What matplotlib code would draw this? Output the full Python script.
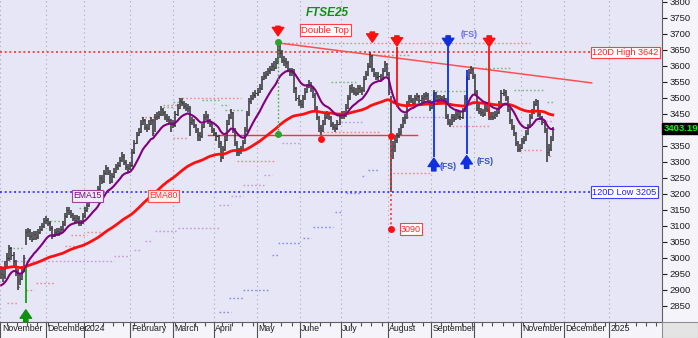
import numpy as np
import pandas as pd
import matplotlib
matplotlib.use('Agg')
import matplotlib.pyplot as plt
from matplotlib.collections import LineCollection
from matplotlib.patches import Rectangle

plt.rcParams['font.family'] = ['Liberation Sans', 'DejaVu Sans']

# daily bars, 1 Nov 2023 .. 22 Nov 2024 (trading days)
closes = [
    2950, 2945, 2975, 3000, 3030, 3010, 2990, 2960, 2910, 2935,
    2960, 3000, 3080, 3085, 3070, 3060, 3075, 3065, 3080, 3090,
    3100, 3115, 3120, 3110, 3095, 3070, 3080, 3085, 3080, 3090,
    3105, 3130, 3150, 3145, 3135, 3125, 3120, 3125, 3110,
    3110, 3130, 3150, 3165, 3180, 3190, 3200, 3195, 3215, 3250,
    3240, 3265, 3280, 3270, 3240, 3255, 3270, 3285, 3290, 3305,
    3320, 3300, 3285, 3280, 3290, 3330, 3360, 3385, 3395, 3420,
    3430, 3410, 3405, 3420, 3430, 3390, 3440, 3445, 3450,
    3465, 3455, 3440, 3435, 3430, 3420, 3415, 3450, 3470, 3490,
    3485, 3475, 3470, 3470, 3425, 3430, 3415, 3400, 3385, 3380,
    3410, 3440, 3445, 3430, 3420, 3400, 3390, 3380, 3360, 3315,
    3340, 3370, 3420, 3440, 3455, 3400, 3360, 3330, 3335,
    3340, 3360, 3400, 3450, 3490, 3500, 3510, 3515, 3520, 3530,
    3560, 3570, 3575, 3585, 3590, 3600, 3595, 3610, 3650, 3640,
    3620, 3615, 3610, 3590, 3580, 3585, 3530, 3500, 3490, 3480,
    3500, 3520, 3535, 3545, 3530, 3510, 3470, 3440, 3405,
    3400, 3420, 3440, 3450, 3440, 3420, 3410, 3405, 3420, 3440,
    3450, 3445, 3470, 3500, 3530, 3525, 3520, 3515, 3530, 3525,
    3525, 3560, 3575, 3600, 3630, 3590, 3575, 3565, 3570,
    3560, 3585, 3605, 3575, 3520, 3340, 3350, 3370, 3380, 3395,
    3410, 3430, 3440, 3480, 3500, 3495, 3485, 3500, 3505, 3495,
    3500, 3505, 3510, 3490, 3470, 3480, 3515, 3505, 3495,
    3500, 3490, 3500, 3445, 3425, 3420, 3440, 3435, 3450, 3445,
    3440, 3460, 3500, 3560, 3580, 3590, 3570, 3520, 3470, 3460,
    3455, 3450, 3470, 3465, 3440, 3445, 3440, 3450, 3455, 3480,
    3515, 3520, 3500, 3465, 3430, 3410, 3390, 3360, 3340,
    3345, 3365, 3370, 3390, 3410, 3440, 3455, 3480, 3490, 3450,
    3440, 3425, 3400, 3330, 3340, 3370, 3403.19,
]
highs = [
    2975, 2965, 2990, 3015, 3040, 3035, 3020, 2995, 2965, 2950,
    2975, 3010, 3090, 3095, 3090, 3080, 3085, 3085, 3090, 3100,
    3110, 3125, 3130, 3125, 3115, 3100, 3090, 3095, 3095, 3100,
    3115, 3140, 3160, 3160, 3150, 3140, 3135, 3135, 3130,
    3120, 3140, 3160, 3175, 3190, 3200, 3210, 3210, 3225, 3260,
    3260, 3275, 3290, 3285, 3275, 3265, 3280, 3295, 3300, 3315,
    3330, 3325, 3305, 3295, 3300, 3340, 3370, 3395, 3405, 3430,
    3440, 3435, 3420, 3430, 3440, 3435, 3450, 3455, 3460,
    3475, 3470, 3460, 3450, 3445, 3435, 3430, 3460, 3480, 3500,
    3500, 3490, 3485, 3480, 3475, 3440, 3435, 3420, 3405, 3395,
    3420, 3450, 3460, 3450, 3435, 3425, 3405, 3395, 3385, 3365,
    3350, 3380, 3430, 3450, 3465, 3455, 3405, 3365, 3345,
    3350, 3370, 3410, 3460, 3500, 3510, 3520, 3525, 3530, 3545,
    3570, 3580, 3585, 3595, 3600, 3610, 3615, 3625, 3675, 3665,
    3650, 3630, 3625, 3615, 3595, 3595, 3590, 3535, 3510, 3495,
    3510, 3530, 3545, 3556, 3550, 3535, 3515, 3475, 3445,
    3415, 3430, 3450, 3460, 3455, 3445, 3425, 3420, 3430, 3450,
    3460, 3460, 3480, 3510, 3540, 3545, 3535, 3530, 3540, 3540,
    3535, 3570, 3585, 3610, 3644, 3635, 3595, 3580, 3580,
    3575, 3595, 3615, 3610, 3580, 3505, 3365, 3380, 3390, 3405,
    3420, 3440, 3450, 3490, 3510, 3510, 3500, 3510, 3515, 3510,
    3510, 3515, 3520, 3515, 3495, 3490, 3525, 3520, 3510,
    3510, 3505, 3510, 3500, 3450, 3435, 3450, 3450, 3460, 3460,
    3455, 3470, 3510, 3570, 3590, 3600, 3595, 3575, 3525, 3480,
    3470, 3465, 3480, 3480, 3470, 3455, 3455, 3460, 3465, 3490,
    3525, 3528, 3525, 3505, 3470, 3435, 3415, 3395, 3365,
    3355, 3375, 3380, 3400, 3420, 3450, 3465, 3490, 3498, 3495,
    3455, 3445, 3430, 3405, 3355, 3380, 3410,
]
lows = [
    2935, 2925, 2935, 2965, 2990, 2995, 2975, 2945, 2900, 2915,
    2930, 2955, 3040, 3065, 3055, 3050, 3055, 3055, 3060, 3075,
    3085, 3095, 3105, 3100, 3085, 3060, 3065, 3070, 3070, 3075,
    3085, 3100, 3125, 3135, 3125, 3115, 3110, 3110, 3100,
    3100, 3105, 3125, 3145, 3160, 3175, 3185, 3185, 3190, 3210,
    3230, 3235, 3260, 3260, 3230, 3235, 3250, 3265, 3275, 3285,
    3300, 3290, 3275, 3270, 3275, 3285, 3325, 3355, 3380, 3390,
    3415, 3400, 3395, 3400, 3415, 3380, 3395, 3430, 3435,
    3445, 3445, 3430, 3425, 3420, 3395, 3405, 3410, 3445, 3465,
    3475, 3465, 3460, 3455, 3380, 3415, 3405, 3390, 3365, 3365,
    3375, 3405, 3430, 3420, 3410, 3390, 3380, 3365, 3345, 3300,
    3310, 3335, 3365, 3415, 3435, 3390, 3350, 3320, 3320,
    3325, 3335, 3355, 3395, 3445, 3480, 3495, 3500, 3505, 3515,
    3525, 3555, 3560, 3570, 3575, 3585, 3585, 3590, 3605, 3625,
    3610, 3600, 3595, 3580, 3570, 3570, 3515, 3490, 3475, 3470,
    3470, 3495, 3515, 3530, 3520, 3500, 3460, 3430, 3395,
    3385, 3395, 3415, 3435, 3430, 3410, 3400, 3395, 3400, 3415,
    3435, 3435, 3440, 3465, 3495, 3515, 3510, 3505, 3510, 3515,
    3510, 3520, 3555, 3570, 3595, 3580, 3565, 3555, 3555,
    3550, 3555, 3580, 3570, 3510, 3205, 3310, 3330, 3360, 3375,
    3385, 3405, 3420, 3435, 3475, 3485, 3475, 3480, 3490, 3485,
    3485, 3485, 3495, 3480, 3460, 3465, 3475, 3495, 3485,
    3485, 3480, 3485, 3435, 3415, 3410, 3415, 3425, 3430, 3435,
    3430, 3435, 3455, 3495, 3555, 3575, 3560, 3510, 3460, 3450,
    3445, 3440, 3445, 3455, 3430, 3430, 3430, 3435, 3440, 3450,
    3475, 3505, 3490, 3455, 3420, 3400, 3380, 3350, 3330,
    3330, 3340, 3355, 3365, 3385, 3405, 3435, 3450, 3475, 3440,
    3430, 3415, 3390, 3300, 3320, 3335, 3365,
]
holidays = ['2023-12-25', '2023-12-26', '2024-01-01', '2024-03-29',
            '2024-04-01', '2024-05-06', '2024-05-27', '2024-08-26']
ema15_start = 2910
ema80_start = 2970
high_120d = 3642
low_120d = 3205
last_close = 3403.19

# dotted level segments (start, end, level)
lavender_segs = [
    ('2023-11-01', '2024-01-22', 2991), ('2024-01-22', '2024-02-01', 3006),
    ('2024-02-05', '2024-02-08', 3025), ('2024-02-12', '2024-02-15', 3053),
    ('2024-02-19', '2024-03-05', 3084), ('2024-03-05', '2024-04-04', 3094),
    ('2024-04-04', '2024-04-12', 3166), ('2024-04-12', '2024-04-22', 3194),
    ('2024-04-22', '2024-05-07', 3228), ('2024-05-07', '2024-05-13', 3259),
    ('2024-05-20', '2024-05-31', 3359), ('2024-06-27', '2024-07-16', 3425),
    ('2024-08-12', '2024-09-27', 3440), ('2024-11-13', '2024-11-22', 3428),
]
blue_segs = [
    ('2024-04-04', '2024-04-12', 2831), ('2024-04-11', '2024-04-22', 2875),
    ('2024-04-22', '2024-05-09', 2900), ('2024-05-13', '2024-05-16', 3009),
    ('2024-05-16', '2024-06-03', 3047), ('2024-06-04', '2024-06-10', 3062),
    ('2024-06-11', '2024-06-25', 3097), ('2024-06-26', '2024-07-01', 3144),
    ('2024-07-03', '2024-07-12', 3203), ('2024-07-15', '2024-07-17', 3256),
    ('2024-07-18', '2024-07-25', 3275),
]
pink_segs = [
    ('2023-11-06', '2023-11-13', 2859), ('2023-11-17', '2023-11-23', 2900),
    ('2023-11-24', '2023-12-07', 2922), ('2023-12-14', '2023-12-21', 3037),
    ('2023-12-19', '2024-01-03', 3072), ('2024-01-03', '2024-01-12', 3081),
    ('2024-02-08', '2024-02-19', 3441), ('2024-02-23', '2024-03-05', 3478),
    ('2024-03-05', '2024-04-19', 3500), ('2024-03-01', '2024-03-12', 3375),
    ('2024-04-17', '2024-05-15', 3303), ('2024-05-17', '2024-11-07', 3672),
    ('2024-06-14', '2024-07-26', 3394), ('2024-08-05', '2024-09-02', 3264),
    ('2024-09-16', '2024-10-10', 3412), ('2024-10-31', '2024-11-15', 3337),
    ('2024-11-20', '2024-11-22', 3319),
]
green_segs = [
    ('2023-11-07', '2023-11-16', 3031), ('2023-12-05', '2023-12-14', 3116),
    ('2023-12-27', '2024-01-05', 3156), ('2024-02-23', '2024-03-01', 3472),
    ('2024-03-01', '2024-03-08', 3487), ('2024-03-21', '2024-04-04', 3494),
    ('2024-04-05', '2024-04-11', 3478), ('2024-04-09', '2024-04-22', 3462),
    ('2024-06-24', '2024-07-11', 3550), ('2024-07-22', '2024-08-16', 3634),
    ('2024-09-04', '2024-09-25', 3522), ('2024-10-04', '2024-10-25', 3594),
    ('2024-10-28', '2024-11-18', 3525), ('2024-11-19', '2024-11-22', 3487),
]

# trading-day calendar (future part uses plain weekdays)
days = pd.bdate_range('2023-11-01', '2025-02-28')
last_day = pd.Timestamp('2024-11-22')
days = days[~(days.isin(pd.to_datetime(holidays)) & (days <= last_day))]


def pos(d):
    return float(days.get_loc(pd.Timestamp(d)))


n = len(closes)
idx = np.arange(n)
ema15 = pd.Series([ema15_start] + closes).ewm(span=15, adjust=False).mean().values[1:]
ema80 = pd.Series([ema80_start] + closes).ewm(span=80, adjust=False).mean().values[1:]

fig = plt.figure(figsize=(6.98, 3.38), dpi=100, facecolor='#f4f4fa')
ax = fig.add_axes([0, 16 / 338, 662 / 698, 322 / 338], facecolor='#e6e6f6')
ax.set_xlim(-0.6, 322.3)
ax.set_ylim(2800, 3806)

# month grid / ticks
month_pos, month_lab = [], []
names = {1: '', 2: 'February', 3: 'March', 4: 'April', 5: 'May', 6: 'June', 7: 'July',
         8: 'August', 9: 'September', 10: '', 11: 'November', 12: 'December'}
for k in range(len(days)):
    if k == 0 or days[k].month != days[k - 1].month:
        if k > 316:
            break
        month_pos.append(k - 0.4)
        lab = str(days[k].year) if days[k].month == 1 else names[days[k].month]
        month_lab.append(lab)
week_pos = [k - 0.4 for k in range(1, len(days)) if days[k].weekday() < days[k - 1].weekday() and k < 322]

for mp in month_pos:
    ax.axvline(mp, color='#a8a8b8', lw=0.8, ls=(0, (1, 3)), zorder=0)
ax.set_xticks(month_pos)
ax.set_xticks(week_pos, minor=True)
ax.set_xticklabels([])
ax.tick_params(axis='x', which='major', length=11.5, width=0.8, color='#505050')
ax.tick_params(axis='x', which='minor', length=3, width=0.8, color='#505050')
for mp, lab in zip(month_pos, month_lab):
    ax.annotate(lab, xy=(mp, 0), xycoords=('data', 'axes fraction'), xytext=(1.0, -1.5),
                textcoords='offset points', ha='left', va='top', fontsize=6.3, color='#202020',
                annotation_clip=False)

ax.yaxis.tick_right()
yticks = np.arange(2850, 3801, 50)
ax.set_yticks(yticks)
# the 3400 label sits under the last-price tag
ax.set_yticklabels(['' if v == 3400 else str(v) for v in yticks])
ax.tick_params(axis='y', length=3.5, width=0.8, pad=2, labelsize=6.8, colors='#202020')
for s in ['left', 'top']:
    ax.spines[s].set_visible(False)
ax.spines['right'].set_color('#606060')
ax.spines['bottom'].set_color('#606060')

# dotted level segments
dot = (0, (1.2, 1.6))
for segs, col in [(lavender_segs, '#c49ad8'), (blue_segs, '#8a8af0'),
                  (pink_segs, '#f08a8a'), (green_segs, '#78b878')]:
    ax.hlines([s[2] for s in segs], [pos(s[0]) for s in segs], [pos(s[1]) for s in segs],
              colors=col, linestyles=dot, lw=1.0, zorder=1)

# 120-day high / low
x_end = pos('2024-12-18')
ax.hlines(high_120d, -0.6, x_end, colors='#ff3030', linestyles=dot, lw=1.2, zorder=1)
ax.hlines(low_120d, -0.6, x_end, colors='#3030ff', linestyles=dot, lw=1.2, zorder=1)
ax.text(x_end + 1.2, high_120d, '120D High %d' % high_120d, fontsize=6.6, color='#ff2020',
        va='center', ha='left', bbox=dict(boxstyle='square,pad=0.15', fc='white', ec='#ff4040', lw=0.8))
ax.text(x_end + 1.2, low_120d, '120D Low %d' % low_120d, fontsize=6.6, color='#2020ff',
        va='center', ha='left', bbox=dict(boxstyle='square,pad=0.15', fc='white', ec='#4040ff', lw=0.8))

# price bars
hl = [[(i, lo), (i, hi)] for i, lo, hi in zip(idx, lows, highs)]
ct = [[(i, c), (i + 0.55, c)] for i, c in zip(idx, closes)]
ax.add_collection(LineCollection(hl, colors='#333333', lw=1.1, zorder=3))
ax.add_collection(LineCollection(ct, colors='#333333', lw=0.8, zorder=3))

ax.plot(idx, ema80, color='#ff1010', lw=2.0, zorder=4)
ax.plot(idx, ema15, color='#800080', lw=1.5, zorder=4)
ax.text(pos('2024-01-03'), 3194, 'EMA15', fontsize=6.2, color='#800080', ha='center', va='center',
        bbox=dict(boxstyle='square,pad=0.15', fc='#f4ecf8', ec='#a040a0', lw=0.8), zorder=6)
ax.text(pos('2024-02-23'), 3194, 'EMA80', fontsize=6.2, color='#ff3030', ha='center', va='center',
        bbox=dict(boxstyle='square,pad=0.15', fc='#fff0f0', ec='#ff5050', lw=0.8), zorder=6)

# double top
top_x = pos('2024-05-16')
ax.plot([top_x, pos('2024-12-19')], [3672, 3547], color='#ff5050', lw=1.1, zorder=2)
ax.plot([pos('2024-03-26'), pos('2024-08-21')], [3384, 3384], color='#ff3030', lw=1.0, zorder=2)
ax.vlines(top_x, 3387, 3675, colors='#40b040', linestyles=dot, lw=1.0, zorder=5)
ax.plot([top_x, top_x], [3675, 3387], 'o', color='#30a030', ms=4, zorder=6)
ax.plot([pos('2024-06-17'), pos('2024-08-02')], [3372, 3381], 'o', color='#ff1010', ms=4, zorder=6)
ax.vlines(pos('2024-08-02'), 3090, 3381, colors='#ff3030', linestyles=dot, lw=1.2, zorder=5)
ax.plot(pos('2024-08-02'), 3090, 'o', color='#ff1010', ms=4, zorder=6)
ax.text(pos('2024-08-09'), 3090, '3090', fontsize=6.5, color='#ff2020', ha='left', va='center',
        bbox=dict(boxstyle='square,pad=0.15', fc='white', ec='#ff4040', lw=0.8), zorder=6)
ax.text(pos('2024-06-19'), 3712, 'Double Top', fontsize=6.8, color='#ff2020', ha='center', va='center',
        bbox=dict(boxstyle='square,pad=0.15', fc='white', ec='#ff4040', lw=0.8), zorder=6)
ax.text(pos('2024-06-20'), 3766, 'FTSE25', fontsize=8.5, color='#109010', ha='center', va='center',
        fontweight='bold', fontstyle='italic', zorder=6)

# signal arrows
arrow = 'simple,head_length=0.55,head_width=0.75,tail_width=0.28'


def sig_arrow(d, tail, tip, col):
    ax.annotate('', xy=(pos(d), tip), xytext=(pos(d), tail),
                arrowprops=dict(arrowstyle=arrow, color=col, mutation_scale=11, shrinkA=0, shrinkB=0),
                zorder=7, annotation_clip=False)


sig_arrow('2024-05-16', 3724, 3694, '#ff1010')
sig_arrow('2024-07-22', 3706, 3674, '#ff1010')
sig_arrow('2024-08-07', 3694, 3662, '#ff1010')
sig_arrow('2024-10-10', 3694, 3660, '#ff1010')
sig_arrow('2024-09-12', 3694, 3660, '#1030e0')
sig_arrow('2024-09-03', 3272, 3312, '#1030e0')
sig_arrow('2024-09-25', 3280, 3320, '#1030e0')
sig_arrow('2023-11-17', 2800, 2838, '#109010')
ax.vlines(pos('2024-08-07'), 3472, 3660, colors='#ff1010', lw=1.3, zorder=5)
ax.vlines(pos('2024-10-10'), 3441, 3660, colors='#ff1010', lw=1.3, zorder=5)
ax.vlines(pos('2024-09-12'), 3484, 3660, colors='#1030e0', lw=1.3, zorder=5)
ax.vlines(pos('2024-09-03'), 3316, 3519, colors='#1030e0', lw=1.3, zorder=5)
ax.vlines(pos('2024-09-25'), 3324, 3587, colors='#1030e0', lw=1.3, zorder=5)
ax.vlines(pos('2023-11-17'), 2859, 2969, colors='#10a010', lw=1.3, zorder=5)
ax.text(pos('2024-09-20'), 3697, '(FS)', fontsize=6.3, color='#7070e8', fontweight='bold', ha='left', va='center')
ax.text(pos('2024-09-06'), 3287, '(FS)', fontsize=6.3, color='#3050d0', fontweight='bold', ha='left', va='center')
ax.text(pos('2024-10-02'), 3303, '(FS)', fontsize=6.3, color='#3050d0', fontweight='bold', ha='left', va='center')

# last price tag
ax.annotate('%.2f' % last_close, xy=(1, last_close), xycoords=('axes fraction', 'data'),
            xytext=(1.0, 0), textcoords='offset points', ha='left', va='center', fontsize=6.8,
            color='#00ff00', fontweight='bold', zorder=10, annotation_clip=False,
            bbox=dict(boxstyle='square,pad=0.1', fc='black', ec='black'))

fig.patches.append(Rectangle((662 / 698, 0), 36 / 698, 16 / 338, transform=fig.transFigure,
                             fc='#e4e4e4', ec='#909090', lw=0.8))

fig.savefig('out.png', dpi=100, facecolor=fig.get_facecolor())
